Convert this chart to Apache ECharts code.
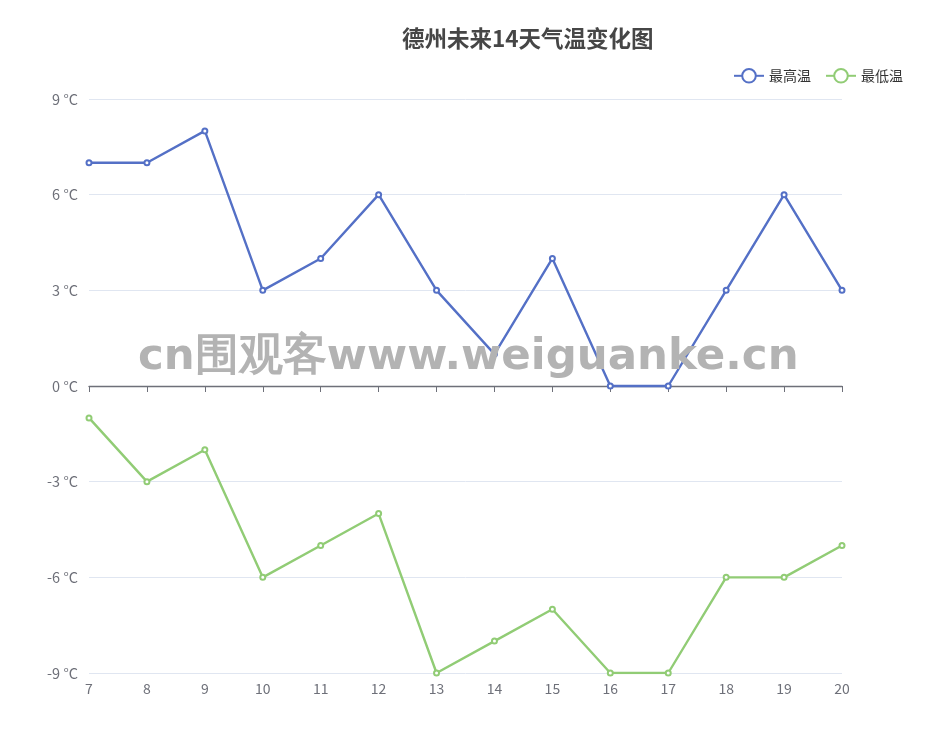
<!DOCTYPE html>
<html><head><meta charset="utf-8">
<script src="https://cdn.jsdelivr.net/npm/echarts@6/dist/echarts.min.js"></script>
<style>html,body{margin:0;padding:0;background:#fff}#c{width:925px;height:750px}</style>
</head><body><div id="c"></div>
<script>
var days = ['7','8','9','10','11','12','13','14','15','16','17','18','19','20'];
var highTemps = [7,7,8,3,4,6,3,1,4,0,0,3,6,3];
var lowTemps = [-1,-3,-2,-6,-5,-4,-9,-8,-7,-9,-9,-6,-6,-5];
var titleText = '德州未来14天气温变化图';
var seriesNames = ['最高温','最低温'];
var watermark = 'cn围观客www.weiguanke.cn';

var FONT = '"Noto Sans CJK SC", "Microsoft YaHei", sans-serif';
var chart = echarts.init(document.getElementById('c'));
chart.setOption({
  textStyle: {fontFamily: FONT},
  title: {text: titleText, left: 397, top: 22, textStyle: {fontSize: 22.5, fontWeight: 'bold', color: '#464646', fontFamily: FONT}},
  legend: {data: seriesNames, right: 17, top: 63, itemWidth: 30, itemHeight: 17, itemGap: 14,
    textStyle: {fontSize: 14, color: '#333', fontFamily: FONT}},
  grid: {left: 89, right: 83, top: 99, bottom: 77},
  xAxis: [{
    type: 'category', data: days, boundaryGap: false,
    axisLine: {onZero: true, lineStyle: {color: '#6E7079', width: 1.4}},
    axisTick: {show: true, length: 6, lineStyle: {color: '#6E7079'}},
    axisLabel: {show: false}
  }, {
    type: 'category', data: days, boundaryGap: false, position: 'bottom',
    axisLine: {show: false, onZero: false}, axisTick: {show: false},
    axisLabel: {show: true, fontSize: 14, color: '#6E7079', margin: 9, fontFamily: FONT}
  }],
  yAxis: {
    type: 'value', min: -9, max: 9, interval: 3,
    axisLabel: {formatter: '{value} °C', fontSize: 14.5, color: '#6E7079', margin: 11, fontFamily: FONT},
    splitLine: {lineStyle: {color: '#E0E6F1'}}
  },
  series: [{
    name: seriesNames[0], type: 'line', data: highTemps, symbol: 'emptyCircle', symbolSize: 5,
    itemStyle: {color: '#5470c6'}, lineStyle: {width: 2.4}
  }, {
    name: seriesNames[1], type: 'line', data: lowTemps, symbol: 'emptyCircle', symbolSize: 5,
    itemStyle: {color: '#91cc75'}, lineStyle: {width: 2.4}
  }],
  graphic: [{
    type: 'text', left: 138, top: 336, z: 100,
    style: {text: watermark, fill: '#b3b3b3', font: 'bold 43.5px "DejaVu Sans", sans-serif'}
  }]
});
</script></body></html>
